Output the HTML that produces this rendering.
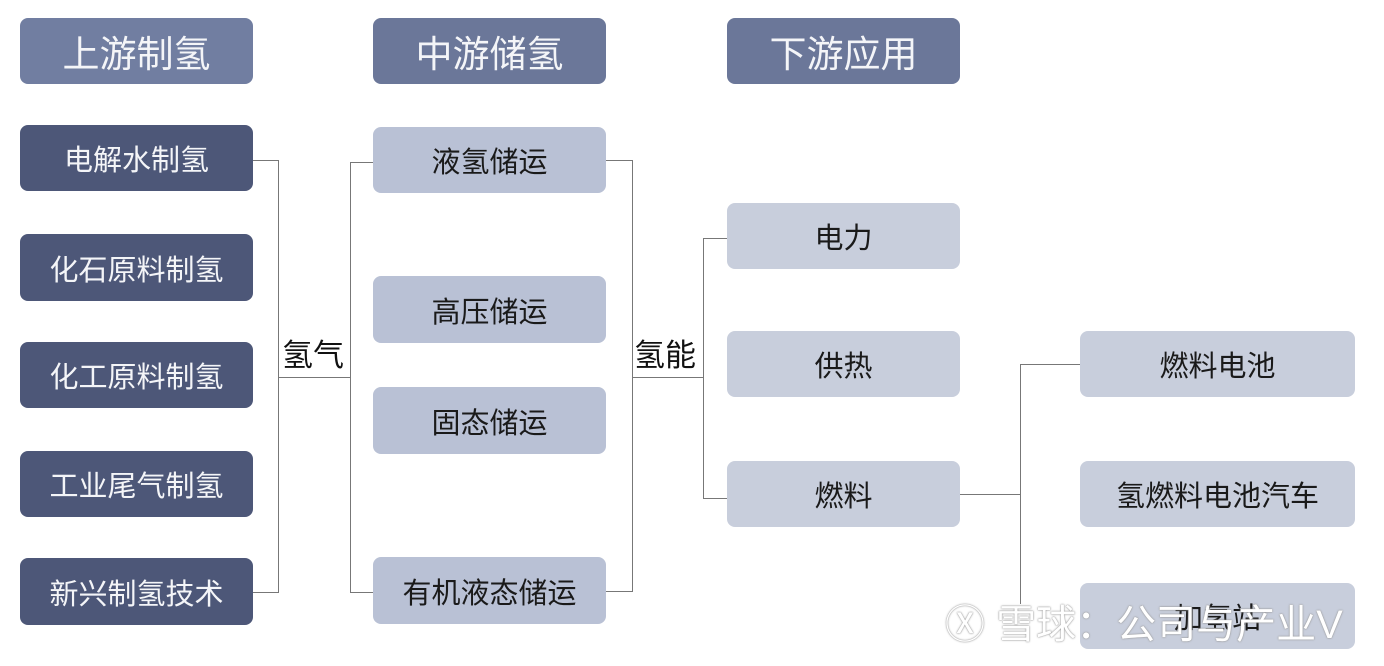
<!DOCTYPE html>
<html><head><meta charset="utf-8"><style>
html,body{margin:0;padding:0;background:#fff;}
body{width:1384px;height:666px;position:relative;overflow:hidden;font-family:"Liberation Sans","Noto Sans CJK SC",sans-serif;}
.b{position:absolute;border-radius:8px;display:flex;align-items:center;justify-content:center;font-size:29px;}
.h{background:#6b7799;color:#f4f5f8;font-size:37px;}
.d{background:#4d5778;color:#f4f5f8;}
.l{background:#b9c1d5;color:#1a1a1a;}
.r{background:#c8cedc;color:#1a1a1a;}
.ln{position:absolute;background:#777;}
.t{position:absolute;font-size:31px;color:#111;}
.wm{position:absolute;left:945px;top:592px;font-size:40px;color:#fff;text-shadow:0 0 2px #999,0 0 1px #888;white-space:nowrap;}
</style></head><body>
<div class="b h" style="left:20px;top:18px;width:233px;height:66px;background:#717ea1">上游制氢</div>
<div class="b h" style="left:373px;top:18px;width:233px;height:66px">中游储氢</div>
<div class="b h" style="left:727px;top:18px;width:233px;height:66px">下游应用</div>

<div class="b d" style="left:20px;top:125px;width:233px;height:66px">电解水制氢</div>
<div class="b d" style="left:20px;top:234px;width:233px;height:67px">化石原料制氢</div>
<div class="b d" style="left:20px;top:342px;width:233px;height:66px">化工原料制氢</div>
<div class="b d" style="left:20px;top:451px;width:233px;height:66px">工业尾气制氢</div>
<div class="b d" style="left:20px;top:558px;width:233px;height:67px">新兴制氢技术</div>

<div class="b l" style="left:373px;top:127px;width:233px;height:66px">液氢储运</div>
<div class="b l" style="left:373px;top:276px;width:233px;height:67px">高压储运</div>
<div class="b l" style="left:373px;top:387px;width:233px;height:67px">固态储运</div>
<div class="b l" style="left:373px;top:557px;width:233px;height:67px">有机液态储运</div>

<div class="b r" style="left:727px;top:203px;width:233px;height:66px">电力</div>
<div class="b r" style="left:727px;top:331px;width:233px;height:66px">供热</div>
<div class="b r" style="left:727px;top:461px;width:233px;height:66px">燃料</div>

<div class="b r" style="left:1080px;top:331px;width:275px;height:66px">燃料电池</div>
<div class="b r" style="left:1080px;top:461px;width:275px;height:66px">氢燃料电池汽车</div>
<div class="b r" style="left:1080px;top:583px;width:275px;height:66px">加氢站</div>

<div class="ln" style="left:253px;top:160px;width:25px;height:1px"></div>
<div class="ln" style="left:253px;top:592px;width:25px;height:1px"></div>
<div class="ln" style="left:278px;top:160px;width:1px;height:433px"></div>
<div class="ln" style="left:278px;top:377px;width:72px;height:1px"></div>
<div class="ln" style="left:350px;top:162px;width:1px;height:431px"></div>
<div class="ln" style="left:350px;top:162px;width:23px;height:1px"></div>
<div class="ln" style="left:350px;top:592px;width:23px;height:1px"></div>
<div class="t" style="left:282px;top:330px">氢气</div>

<div class="ln" style="left:606px;top:160px;width:26px;height:1px"></div>
<div class="ln" style="left:606px;top:591px;width:26px;height:1px"></div>
<div class="ln" style="left:632px;top:160px;width:1px;height:432px"></div>
<div class="ln" style="left:632px;top:377px;width:71px;height:1px"></div>
<div class="ln" style="left:703px;top:238px;width:1px;height:261px"></div>
<div class="ln" style="left:703px;top:238px;width:24px;height:1px"></div>
<div class="ln" style="left:703px;top:498px;width:24px;height:1px"></div>
<div class="t" style="left:634px;top:330px">氢能</div>

<div class="ln" style="left:960px;top:494px;width:60px;height:1px"></div>
<div class="ln" style="left:1020px;top:364px;width:1px;height:240px"></div>
<div class="ln" style="left:1020px;top:364px;width:60px;height:1px"></div>

<div class="wm">&#x24CD; 雪球：公司与产业V</div>
</body></html>
